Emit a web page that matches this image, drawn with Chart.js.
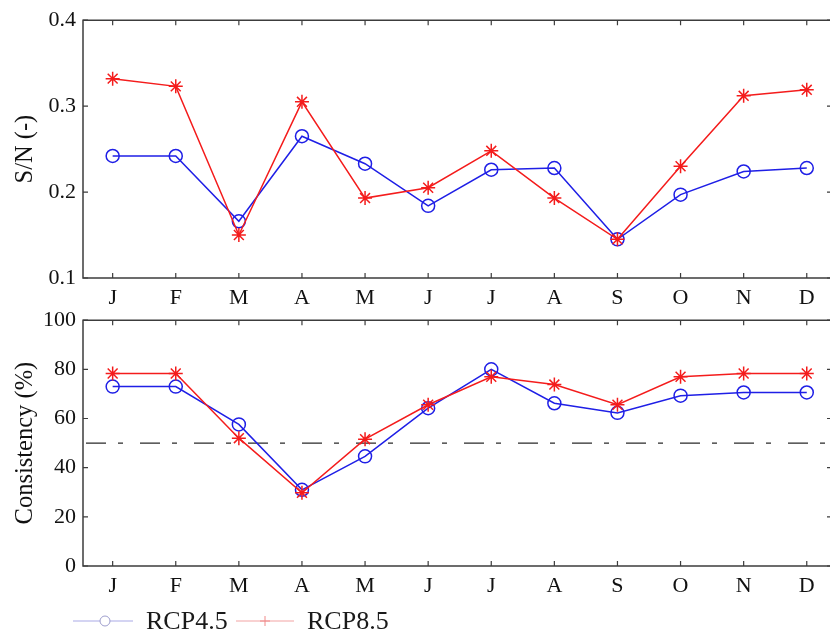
<!DOCTYPE html>
<html><head><meta charset="utf-8">
<script src="https://cdn.jsdelivr.net/npm/chart.js@4.4.1/dist/chart.umd.min.js"></script>
<style>
html,body{margin:0;padding:0;background:#fff;overflow:hidden;width:830px;height:634px;}
#wrap{position:relative;width:830px;height:634px;overflow:hidden;background:#fff;}
canvas{position:absolute;left:0;}
</style></head><body>
<div id="wrap">
<canvas id="top" width="846" height="310" style="top:0"></canvas>
<canvas id="bot" width="846" height="334" style="top:300px"></canvas>
</div>
<script>
const months = ['J','F','M','A','M','J','J','A','S','O','N','D'];
const snRcp45 = [0.242,0.242,0.166,0.265,0.233,0.184,0.226,0.228,0.145,0.197,0.224,0.228];
const snRcp85 = [0.332,0.323,0.150,0.305,0.193,0.205,0.248,0.193,0.145,0.230,0.312,0.319];
const consRcp45 = [73.0,73.0,57.6,31.0,44.6,64.2,80.0,66.2,62.3,69.3,70.6,70.6];
const consRcp85 = [78.3,78.3,52.0,29.8,51.6,65.6,77.0,73.8,65.6,77.0,78.3,78.3];
const snTicks = [0.1,0.2,0.3,0.4];
const consTicks = [0,20,40,60,80,100];
const threshold = 50;
const seriesNames = ['RCP4.5','RCP8.5'];

const X_MIN = -0.47, X_MAX = 11.4;
const SERIF = "'Liberation Serif','Times New Roman',serif";
const BLUE = '#1f1fe6', RED = '#f41c1c';

const toPts = arr => arr.map((v,i)=>({x:i,y:v}));

const framePlugin = {
  id:'frame',
  afterDraw(chart){
    const {ctx, chartArea:a, scales:{x,y}} = chart;
    ctx.save();
    ctx.strokeStyle = '#3c3c3c'; ctx.lineWidth = 1.5;
    ctx.beginPath();
    ctx.moveTo(a.right, a.top); ctx.lineTo(a.left, a.top);
    ctx.lineTo(a.left, a.bottom); ctx.lineTo(a.right, a.bottom);
    ctx.stroke();
    const L = 5;
    ctx.lineWidth = 1.2;
    ctx.beginPath();
    x.ticks.forEach(t=>{const p=x.getPixelForValue(t.value);
      ctx.moveTo(p,a.bottom);ctx.lineTo(p,a.bottom-L);
      ctx.moveTo(p,a.top);ctx.lineTo(p,a.top+L);});
    y.ticks.forEach(t=>{const p=y.getPixelForValue(t.value);
      ctx.moveTo(a.left,p);ctx.lineTo(a.left+L,p);
      ctx.moveTo(a.right,p);ctx.lineTo(a.right-L,p);});
    ctx.stroke();
    ctx.restore();
  }
};

const legendPlugin = {
  id:'customLegend',
  afterDraw(chart){
    const ctx = chart.ctx;
    const y = 321;
    ctx.save();
    ctx.strokeStyle = '#a9a9e6'; ctx.lineWidth = 1;
    ctx.beginPath(); ctx.moveTo(73,y); ctx.lineTo(133,y); ctx.stroke();
    ctx.fillStyle='#fff';
    ctx.strokeStyle = '#9d9dcc'; ctx.lineWidth = 1;
    ctx.beginPath(); ctx.arc(105,y,5,0,Math.PI*2); ctx.fill(); ctx.stroke();
    ctx.fillStyle = '#1a1a1a';
    ctx.font = "26px " + SERIF;
    ctx.textBaseline = 'middle'; ctx.textAlign = 'left';
    ctx.fillText(seriesNames[0], 146, y+1);
    ctx.strokeStyle = '#f2a3a3'; ctx.lineWidth = 1;
    ctx.beginPath(); ctx.moveTo(236,y); ctx.lineTo(294,y); ctx.stroke();
    ctx.strokeStyle = '#f08a8a';
    ctx.beginPath(); ctx.moveTo(265,y-5); ctx.lineTo(265,y+5); ctx.moveTo(260,y); ctx.lineTo(270,y); ctx.stroke();
    ctx.fillText(seriesNames[1], 307, y+1);
    ctx.restore();
  }
};

function makeOptions(yMin, yMax, ticksArr, title, fmt, padTop, xH){
  return {
    responsive:false, animation:false,
    layout:{padding:{top:padTop, right:14, left:0, bottom:0}},
    plugins:{legend:{display:false}, tooltip:{enabled:false}},
    scales:{
      x:{type:'linear', min:X_MIN, max:X_MAX,
        afterBuildTicks:s=>{s.ticks = months.map((m,i)=>({value:i}));},
        afterFit:s=>{s.height = xH;},
        grid:{display:false, drawTicks:false}, border:{display:false},
        ticks:{autoSkip:false, maxRotation:0, padding:7, color:'#111',
          font:{family:SERIF, size:22},
          callback:(v)=>months[v] ?? ''}},
      y:{min:yMin, max:yMax,
        afterBuildTicks:s=>{s.ticks = ticksArr.map(v=>({value:v}));},
        afterFit:s=>{s.width = 83;},
        grid:{display:false, drawTicks:false}, border:{display:false},
        title:{display:true, text:title, color:'#111', font:{family:SERIF, size:24.5}, padding:{top:11,bottom:0}},
        ticks:{padding:7, color:'#111', font:{family:SERIF, size:22}, callback:fmt}}
    }
  };
}

new Chart(document.getElementById('top'), {
  type:'line',
  data:{datasets:[
    {label:seriesNames[0], data:toPts(snRcp45), borderColor:BLUE, borderWidth:1.5,
     pointStyle:'circle', pointRadius:6.5, pointBorderColor:BLUE, pointBackgroundColor:'rgba(0,0,0,0)', pointBorderWidth:1.5, order:1},
    {label:seriesNames[1], data:toPts(snRcp85), borderColor:RED, borderWidth:1.5,
     pointStyle:'star', pointRadius:7, pointBorderColor:RED, pointBorderWidth:1.5, order:0}
  ]},
  options:makeOptions(0.1,0.4,snTicks,'S/N (-)', v=>v.toFixed(1), 18, 32),
  plugins:[framePlugin]
});

new Chart(document.getElementById('bot'), {
  type:'line',
  data:{datasets:[
    {label:'threshold', data:[{x:X_MIN,y:threshold},{x:X_MAX,y:threshold}], borderColor:'#2a2a2a', borderWidth:1.3,
     borderDash:[20,12,5,17], borderDashOffset:51, pointRadius:0, order:2},
    {label:seriesNames[0], data:toPts(consRcp45), borderColor:BLUE, borderWidth:1.5,
     pointStyle:'circle', pointRadius:6.5, pointBorderColor:BLUE, pointBackgroundColor:'rgba(0,0,0,0)', pointBorderWidth:1.5, order:1},
    {label:seriesNames[1], data:toPts(consRcp85), borderColor:RED, borderWidth:1.5,
     pointStyle:'star', pointRadius:7, pointBorderColor:RED, pointBorderWidth:1.5, order:0}
  ]},
  options:makeOptions(0,100,consTicks,'Consistency (%)', v=>String(v), 18, 68),
  plugins:[framePlugin, legendPlugin]
});
</script>
</body></html>
